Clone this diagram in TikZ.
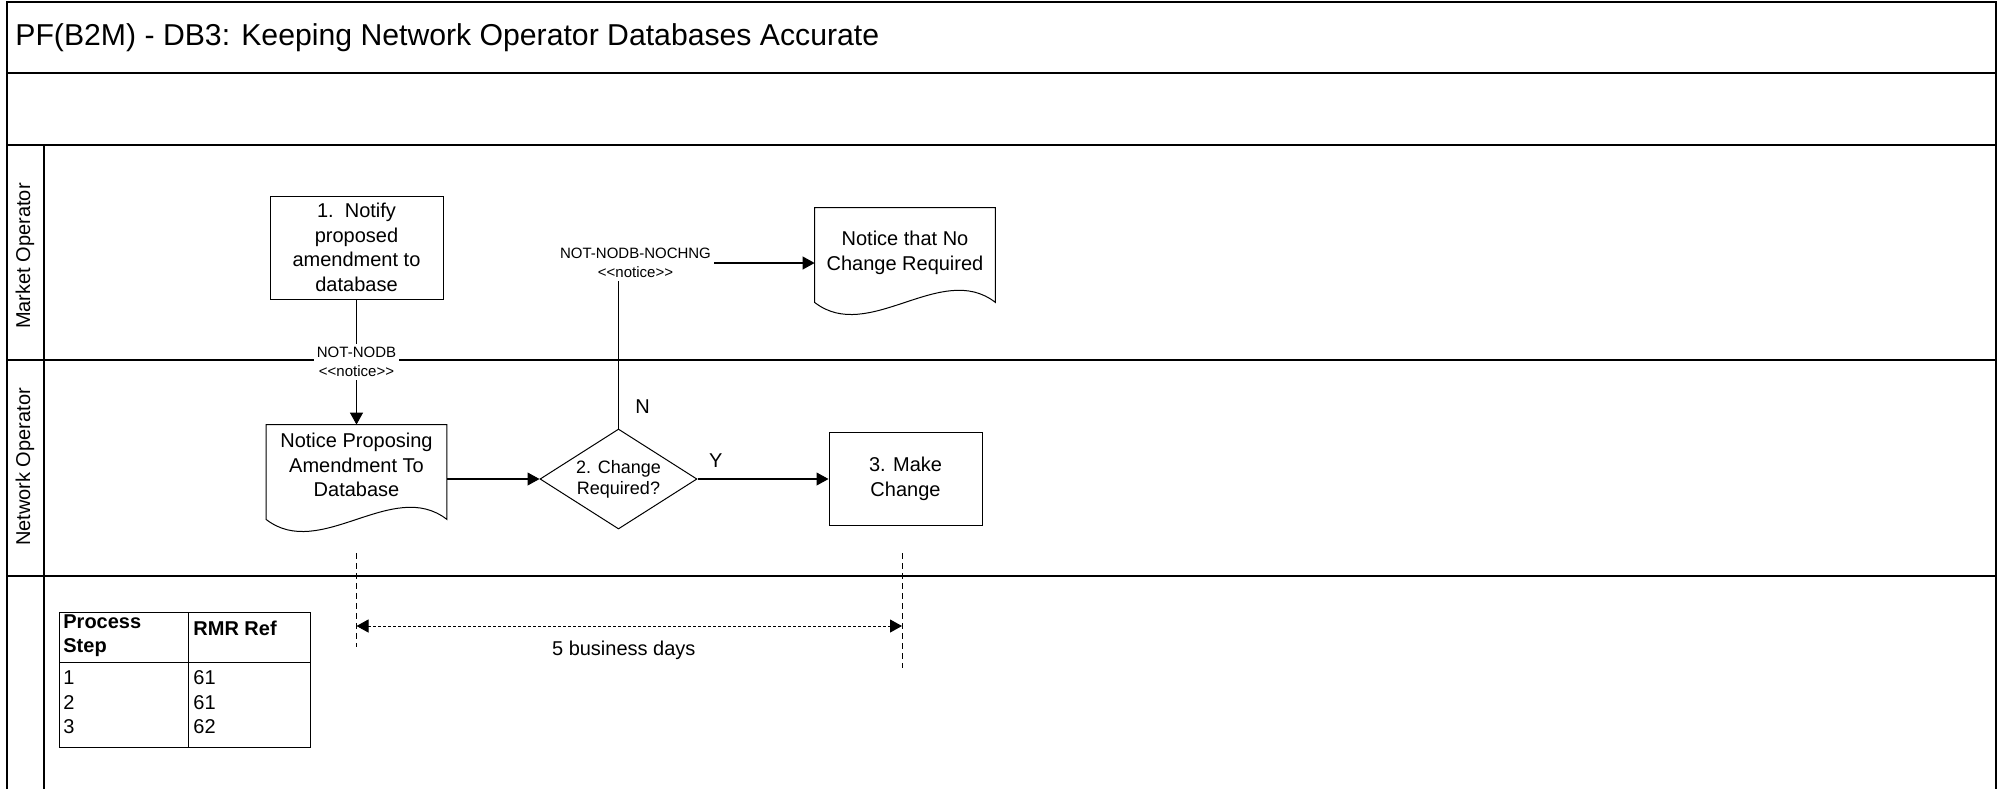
\documentclass[tikz,border=0pt]{standalone}
\usepackage{fontspec}
\setmainfont{Liberation Sans}
\usetikzlibrary{arrows.meta,shapes.geometric}
\tikzset{
  flow arrow/.style={
    -{Triangle[length=6pt,width=6.5pt]},
    line width=0.55pt,
  },
  process box/.style={
    draw,
    line width=0.5pt,
    align=center,
    font=\fontsize{10}{12.3}\selectfont,
  },
  doc shape/.style={
    align=center,
    minimum width=90pt,
    inner sep=0pt,
    font=\fontsize{10}{12.3}\selectfont,
  },
  decision/.style={
    draw,
    diamond,
    aspect=1.57,
    inner sep=0pt,
    minimum width=78.5pt,
    minimum height=50pt,
    line width=0.5pt,
    align=center,
    font=\fontsize{9}{10.5}\selectfont,
  },
  flow label/.style={
    fill=white,
    inner sep=1.5pt,
    align=center,
    font=\fontsize{7.5}{9.5}\selectfont,
  },
  yn label/.style={font=\fontsize{10}{12}\selectfont},
  lane title/.style={rotate=90, font=\fontsize{10}{12}\selectfont},
  lane line/.style={line width=0.7pt},
  frame line/.style={line width=1pt},
  timeline/.style={line width=0.5pt, dash pattern=on 3pt off 2pt},
  span arrow/.style={
    {Triangle[length=6pt,width=6.5pt]}-{Triangle[length=6pt,width=6.5pt]},
    line width=0.5pt,
    dash pattern=on 1.5pt off 1pt,
  },
  cell text/.style={
    anchor=west,
    inner sep=0pt,
    align=left,
    font=\fontsize{10}{12}\selectfont,
  },
}
% outline of a document shape round a named node, sides dropped by #2
\newcommand{\docoutline}[2]{%
  \draw[line width=0.5pt] (#1.north west) -- (#1.north east)
    -- ([yshift=-#2]#1.south east)
    .. controls +(-54,-42) and +(54,42) .. ([yshift=-#2]#1.south west)
    -- cycle;
}

\begin{document}
\begin{tikzpicture}[x=0.5pt, y=-0.5pt]
\useasboundingbox (0,0) rectangle (1998,789);

% pool and lanes
\draw[frame line] (7,789) -- (7,1.5) -- (1996,1.5) -- (1996,789);
\draw[lane line] (7,73) -- (1996,73);
\draw[lane line] (7,145) -- (1996,145);
\draw[lane line] (7,360) -- (1996,360);
\draw[lane line] (7,576) -- (1996,576);
\draw[lane line] (44,145) -- (44,789);

\node[anchor=base west, inner sep=0pt, font=\fontsize{15.1}{18}\selectfont] (title)
  at (15,45) {PF(B2M) - DB3: Keeping Network Operator Databases Accurate};

\node[lane title] (mo) at (25,256) {Market Operator};
\node[lane title] (no) at (25,467) {Network Operator};

% steps
\node[process box, minimum width=86.5pt, minimum height=51.5pt] (n1)
  at (356.5,247.5) {1.~~Notify\\proposed\\amendment to\\database};
\node[doc shape, minimum height=40pt] (np) at (356.5,465) {Notice Proposing\\Amendment To\\Database};
\docoutline{np}{7pt}
\node[doc shape, minimum height=45pt] (nd) at (905,253) {Notice that No\\Change Required};
\docoutline{nd}{2pt}
\node[decision] (d2) at (618.5,479) {2. Change\\Required?};
\node[process box, minimum width=76.5pt, minimum height=46.5pt] (n3)
  at (905.5,479) {3. Make\\Change};

% flows
\draw[flow arrow] (n1) -- node[flow label] (lblnodb) {NOT-NODB\\<{}<notice>{}>} (np);
\draw[flow arrow] (d2.west -| np.east) -- (d2.west);
\draw[flow arrow] (d2.east) -- node[yn label, pos=0.14, yshift=9pt] (lblY) {Y} (n3.west);
\draw[flow arrow] (d2.north) |- node[flow label, pos=0.5, xshift=8.5pt] (lblnochng)
  {NOT-NODB-NOCHNG\\<{}<notice>{}>} ([yshift=-5pt]nd.west);
\node[yn label] (lblN) at ([xshift=12pt,yshift=11pt]d2.north) {N};

% time span
\coordinate (t1a) at (356.5,553);
\coordinate (t1b) at (356.5,647);
\coordinate (t2a) at (902,553);
\coordinate (t2b) at (902,668);
\coordinate (s1) at (356.5,626);
\coordinate (s2) at (902,626);
\draw[timeline] (t1a) -- (t1b);
\draw[timeline] (t2a) -- (t2b);
\draw[span arrow] (s1) -- node[yn label, pos=0.49, yshift=-12pt] (days) {5 business days} (s2);

% reference table
\draw[line width=0.5pt] (59,612) rectangle (310,747);
\draw[line width=0.5pt] (188,612) -- (188,747);
\draw[line width=0.5pt] (59,662) -- (310,662);
\node[cell text, font=\fontsize{10}{12}\selectfont\bfseries] (hstep) at (63,636) {Process\\Step};
\node[cell text, font=\fontsize{10}{12}\selectfont\bfseries] (hrmr) at (193,628) {RMR Ref};
\node[cell text] (r1) at (63,678) {1};
\node[cell text] (r2) at (63,702.5) {2};
\node[cell text] (r3) at (63,727) {3};
\node[cell text] (f1) at (193,678) {61};
\node[cell text] (f2) at (193,702.5) {61};
\node[cell text] (f3) at (193,727) {62};

\end{tikzpicture}
\end{document}
